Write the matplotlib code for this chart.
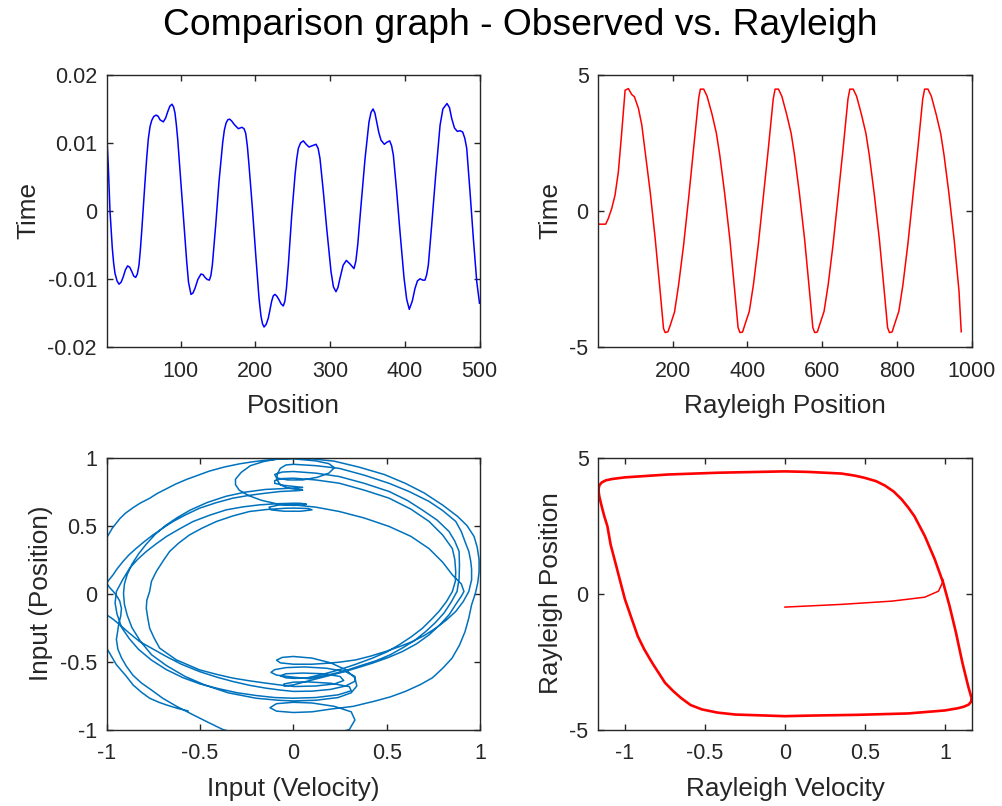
import matplotlib
matplotlib.use("Agg")
import matplotlib.pyplot as plt
import numpy as np

plt.rcParams['font.family'] = ['Liberation Sans', 'DejaVu Sans']
plt.rcParams['axes.unicode_minus'] = False

# ---------------- Top-left: observed signal (sample index, value) ----------------
obs_pts = [(1, 0.0114), (2, 0.0092), (3.1, 0.0067), (5.4, 0.0), (8.5, -0.0055), (10.3, -0.0077),
           (12.1, -0.0092), (14.8, -0.0103), (17.5, -0.0108), (20.3, -0.0105), (23.2, -0.0097),
           (26, -0.0087), (29, -0.0081), (31.8, -0.0083), (34.5, -0.0089), (37.2, -0.0096),
           (39.8, -0.0098), (42, -0.0093), (44.2, -0.0080), (46, -0.0058), (47.8, -0.0031),
           (50, 0.0006), (52.3, 0.0043), (54.5, 0.0077), (56.7, 0.0106), (59, 0.0124),
           (61.2, 0.0133), (64, 0.0139), (67.4, 0.0141), (70, 0.0139), (72.4, 0.0134),
           (76.8, 0.0131), (80, 0.0137), (82.7, 0.0146), (85.5, 0.0154), (88.4, 0.0157),
           (90.5, 0.0153), (92.4, 0.0144), (94.2, 0.0127), (96, 0.0106), (99.5, 0.0053),
           (103.5, -0.0006), (108.1, -0.0075), (110.5, -0.0105), (113.8, -0.0123), (116.5, -0.0121),
           (119.2, -0.0114), (123, -0.0101), (127.2, -0.0093), (130, -0.0094), (132.6, -0.0098),
           (135.5, -0.0101), (138.4, -0.0102), (140.5, -0.0095), (142.4, -0.0080), (146.9, -0.0021),
           (151.3, 0.0043), (156.3, 0.0101), (158.5, 0.0119), (160.7, 0.0129), (163, 0.0134),
           (165.6, 0.0135), (168.5, 0.0132), (171.8, 0.0127), (177.2, 0.0121), (182, 0.0123),
           (184.8, 0.0121), (187.1, 0.0114), (189.3, 0.0095), (191.5, 0.0067), (196, 0.0004),
           (200.5, -0.0065), (204.9, -0.0129), (207.5, -0.0155), (209.5, -0.0166), (211.6, -0.0171),
           (214.5, -0.0167), (217.3, -0.0158), (221.8, -0.0133), (224, -0.0125), (226.3, -0.0123),
           (229, -0.0126), (231.7, -0.0131), (234.5, -0.0137), (237.4, -0.0140), (239.5, -0.0133),
           (241.5, -0.0115), (244.1, -0.0080), (248.7, -0.0006), (253.1, 0.0053), (255.3, 0.0076),
           (257.5, 0.0092), (260.5, 0.0100), (264.2, 0.0103), (268, 0.0098), (271.8, 0.0094),
           (276.5, 0.0096), (281.2, 0.0098), (284, 0.0092), (286.5, 0.0077), (291, 0.0028),
           (295.5, -0.0026), (301.3, -0.0090), (304.5, -0.0112), (307.9, -0.0119), (310.5, -0.0113),
           (313.3, -0.0099), (317.5, -0.0080), (321.8, -0.0073), (326.5, -0.0078), (332, -0.0085),
           (334.5, -0.0074), (337, -0.0050), (341.4, 0.0008), (346.8, 0.0077), (352.1, 0.0131),
           (354.8, 0.0145), (357.5, 0.0150), (360, 0.0144), (362.4, 0.0131), (365.3, 0.0115),
           (368.2, 0.0104), (372.6, 0.0098), (376, 0.0101), (379.8, 0.0103), (382.3, 0.0096),
           (384.7, 0.0082), (389.2, 0.0028), (393.6, -0.0031), (399, -0.0099), (402.5, -0.0130),
           (406, -0.0145), (410, -0.0133), (413.7, -0.0114), (417, -0.0103), (420.5, -0.0100),
           (424, -0.0102), (427, -0.0102), (429.3, -0.0094), (431.5, -0.0080), (436, -0.0021),
           (441.4, 0.0053), (447.2, 0.0126), (451, 0.0150), (456.5, 0.0158), (459.8, 0.0152),
           (462.8, 0.0136), (466.5, 0.0122), (470.3, 0.0117), (474, 0.0118), (477.5, 0.0116),
           (480.3, 0.0107), (482.9, 0.0092), (487.3, 0.0028), (491.8, -0.0041), (496.3, -0.0104),
           (500, -0.0136)]

# ---------------- Top-right: Rayleigh position ----------------
ray_x = [1, 20.8, 27.8, 37, 45.8, 54.7, 63.8, 72.7, 81.5, 90.6, 97.6, 108.4, 117.5, 126.4, 139.8,
         153.2, 166.6, 175.5, 180, 187.3, 193.5, 205, 215.8, 229.2, 242.6, 256, 269.5, 274, 283,
         292, 305.4, 317, 326, 339, 353, 366, 375, 380, 387, 393, 405, 416, 429, 442, 456, 469,
         474, 483, 492, 505, 517, 526, 539, 553, 566, 575, 580, 587, 593, 605, 616, 629, 642, 656,
         669, 674, 683, 692, 705, 717, 726, 739, 753, 766, 775, 780, 787, 793, 805, 816, 829, 842,
         856, 869, 874, 883, 892, 905, 917, 926, 939, 953, 966, 972]
ray_y = [-0.49, -0.49, -0.28, 0.09, 0.58, 1.44, 2.91, 4.44, 4.50, 4.28, 4.20, 3.77, 3.15, 2.17,
         0.70, -1.02, -2.98, -4.33, -4.48, -4.45, -4.21, -3.72, -2.73, -1.26, 0.46, 2.30, 4.14,
         4.48, 4.48, 4.22, 3.55, 2.85, 2.05, 0.65, -1.05, -2.95, -4.30, -4.48, -4.46, -4.20, -3.70,
         -2.72, -1.25, 0.45, 2.30, 4.12, 4.48, 4.48, 4.22, 3.55, 2.85, 2.05, 0.65, -1.05, -2.95,
         -4.30, -4.48, -4.46, -4.20, -3.70, -2.72, -1.25, 0.45, 2.30, 4.12, 4.48, 4.48, 4.22, 3.55,
         2.85, 2.05, 0.65, -1.05, -2.95, -4.30, -4.48, -4.46, -4.20, -3.70, -2.72, -1.25, 0.45,
         2.30, 4.12, 4.48, 4.48, 4.22, 3.55, 2.85, 2.05, 0.65, -1.05, -2.95, -4.45]

# ---------------- Bottom-left: input phase portrait (velocity, position) ----------------
bl_start = [(-1.08, -0.05), (-1.0, -0.157), (-0.965, -0.19), (-0.93, -0.23), (-0.88, -0.29),
            (-0.824, -0.353), (-0.75, -0.41), (-0.681, -0.463), (-0.60, -0.52), (-0.503, -0.574),
            (-0.41, -0.615), (-0.324, -0.647), (-0.235, -0.675), (-0.147, -0.696), (-0.07, -0.71),
            (0.0, -0.72)]
bl_loop1 = [(0.1, -0.718), (0.2, -0.705), (0.28, -0.68), (0.33, -0.645), (0.33, -0.61),
            (0.28, -0.575), (0.18, -0.55), (0.06, -0.54), (-0.04, -0.545), (-0.1, -0.56),
            (-0.12, -0.58), (-0.09, -0.60), (0.0, -0.615), (0.086, -0.627)]
bl_rise_b = [(0.18, -0.60), (0.264, -0.574), (0.35, -0.535), (0.442, -0.495), (0.52, -0.45),
             (0.585, -0.40), (0.65, -0.345), (0.709, -0.28), (0.76, -0.215), (0.807, -0.144),
             (0.845, -0.065), (0.877, 0.015), (0.888, 0.11), (0.89, 0.21), (0.888, 0.309),
             (0.865, 0.385), (0.834, 0.456), (0.77, 0.54), (0.69, 0.615), (0.61, 0.685),
             (0.513, 0.75), (0.38, 0.81), (0.246, 0.86), (0.12, 0.885), (0.0, 0.897)]
bl_top_b = [(-0.06, 0.893), (-0.10, 0.875), (-0.09, 0.85), (-0.03, 0.835), (0.05, 0.835),
            (0.13, 0.855), (0.19, 0.885), (0.22, 0.925), (0.19, 0.955), (0.12, 0.975),
            (0.04, 0.985), (0.0, 0.99)]
bl_fall_a = [(-0.08, 0.988), (-0.15, 0.98), (-0.22, 0.968), (-0.29, 0.953), (-0.37, 0.93),
             (-0.45, 0.90), (-0.51, 0.87), (-0.57, 0.84), (-0.63, 0.805), (-0.68, 0.77),
             (-0.73, 0.735), (-0.77, 0.70), (-0.82, 0.665), (-0.86, 0.63), (-0.90, 0.59),
             (-0.93, 0.55), (-0.97, 0.48), (-1.0, 0.41), (-1.04, 0.30), (-1.05, 0.2),
             (-1.03, 0.12), (-1.0, 0.076), (-0.985, 0.045), (-0.966, 0.017), (-0.945, -0.02),
             (-0.93, -0.056), (-0.921, -0.11), (-0.925, -0.167), (-0.935, -0.22), (-0.94, -0.265),
             (-0.948, -0.338), (-0.94, -0.41), (-0.92, -0.475), (-0.895, -0.534), (-0.86, -0.60),
             (-0.815, -0.657), (-0.76, -0.71), (-0.70, -0.77), (-0.625, -0.83), (-0.54, -0.89),
             (-0.46, -0.945), (-0.378, -1.0), (-0.25, -1.05), (-0.1, -1.08), (0.05, -1.075),
             (0.2, -1.04), (0.30, -1.0)]
bl_loop2 = [(0.33, -0.93), (0.31, -0.87), (0.22, -0.83), (0.1, -0.805), (0.0, -0.80),
            (-0.09, -0.81), (-0.125, -0.84), (-0.09, -0.865), (0.0, -0.875), (0.1, -0.87),
            (0.2, -0.85)]
bl_rise_outer = [(0.32, -0.83), (0.44, -0.79), (0.52, -0.76), (0.60, -0.72), (0.68, -0.67),
                 (0.745, -0.62), (0.80, -0.55), (0.85, -0.476), (0.89, -0.38), (0.92, -0.28),
                 (0.94, -0.18), (0.955, -0.083), (0.975, 0.0), (0.988, 0.079), (0.995, 0.16),
                 (0.995, 0.25), (0.985, 0.34), (0.968, 0.42), (0.93, 0.50), (0.879, 0.568),
                 (0.80, 0.65), (0.70, 0.74), (0.60, 0.81), (0.487, 0.875), (0.35, 0.93),
                 (0.219, 0.973), (0.10, 0.99), (0.0, 0.995)]
bl_top_big = [(-0.08, 0.99), (-0.16, 0.97), (-0.23, 0.94), (-0.28, 0.89), (-0.31, 0.84),
              (-0.31, 0.80), (-0.29, 0.76), (-0.24, 0.72), (-0.17, 0.685), (-0.09, 0.66),
              (0.0, 0.648), (0.05, 0.65), (0.07, 0.657), (0.04, 0.663), (0.006, 0.664)]
bl_fall_c = [(-0.09, 0.66), (-0.18, 0.652), (-0.27, 0.637), (-0.36, 0.615), (-0.45, 0.575),
             (-0.538, 0.529), (-0.61, 0.475), (-0.68, 0.419), (-0.735, 0.365), (-0.788, 0.309),
             (-0.835, 0.25), (-0.877, 0.186), (-0.915, 0.10), (-0.948, 0.015), (-0.955, -0.07),
             (-0.945, -0.15), (-0.92, -0.25), (-0.88, -0.33), (-0.83, -0.41), (-0.76, -0.49),
             (-0.68, -0.56), (-0.59, -0.62), (-0.50, -0.665), (-0.40, -0.70), (-0.30, -0.73),
             (-0.20, -0.75), (-0.10, -0.765), (0.0, -0.77)]
bl_loop3 = [(0.12, -0.765), (0.24, -0.745), (0.31, -0.715), (0.30, -0.685), (0.2, -0.66),
            (0.08, -0.65), (0.0, -0.652), (-0.05, -0.665), (-0.05, -0.68), (0.0, -0.672),
            (0.068, -0.647)]
bl_rise_d = [(0.16, -0.615), (0.246, -0.585), (0.335, -0.55), (0.424, -0.512), (0.51, -0.47),
             (0.585, -0.426), (0.66, -0.37), (0.727, -0.304), (0.785, -0.23), (0.834, -0.157),
             (0.875, -0.07), (0.90, -0.02), (0.914, 0.015), (0.90, 0.07), (0.852, 0.137),
             (0.80, 0.23), (0.727, 0.33), (0.63, 0.42), (0.513, 0.493), (0.38, 0.555),
             (0.246, 0.603), (0.12, 0.635), (0.0, 0.652)]
bl_top_d = [(-0.08, 0.65), (-0.13, 0.635), (-0.12, 0.615), (-0.05, 0.605), (0.04, 0.605),
            (0.10, 0.615), (0.08, 0.625), (0.0, 0.628)]
bl_fall_d = [(-0.039, 0.627), (-0.14, 0.618), (-0.235, 0.603), (-0.325, 0.57), (-0.413, 0.529),
             (-0.49, 0.48), (-0.556, 0.431), (-0.615, 0.37), (-0.663, 0.309), (-0.70, 0.235),
             (-0.734, 0.162), (-0.76, 0.09), (-0.77, 0.015), (-0.785, -0.05), (-0.788, -0.108),
             (-0.78, -0.18), (-0.77, -0.255), (-0.745, -0.33), (-0.716, -0.402), (-0.627, -0.488),
             (-0.503, -0.561), (-0.41, -0.595), (-0.324, -0.622), (-0.235, -0.642),
             (-0.147, -0.659), (-0.07, -0.673), (0.006, -0.684)]
bl_loop4 = [(0.12, -0.68), (0.22, -0.665), (0.27, -0.64), (0.25, -0.61), (0.16, -0.59),
            (0.05, -0.585), (-0.04, -0.59), (-0.07, -0.605), (-0.04, -0.62), (0.0, -0.624),
            (0.068, -0.622)]
bl_rise_c = [(0.16, -0.593), (0.246, -0.561), (0.335, -0.52), (0.424, -0.475), (0.50, -0.43),
             (0.567, -0.377), (0.63, -0.32), (0.692, -0.255), (0.74, -0.19), (0.78, -0.132),
             (0.82, -0.06), (0.852, 0.015), (0.868, 0.09), (0.87, 0.16), (0.865, 0.25),
             (0.852, 0.33), (0.80, 0.43), (0.727, 0.53), (0.63, 0.62), (0.513, 0.701),
             (0.38, 0.76), (0.246, 0.811), (0.12, 0.835), (0.0, 0.848)]
bl_top_c = [(-0.06, 0.845), (-0.10, 0.83), (-0.10, 0.81), (-0.05, 0.795), (0.02, 0.785),
            (0.05, 0.78), (0.03, 0.775), (0.0, 0.775)]
bl_fall_e = [(-0.15, 0.765), (-0.26, 0.745), (-0.36, 0.715), (-0.46, 0.67), (-0.55, 0.615),
             (-0.62, 0.56), (-0.685, 0.50), (-0.74, 0.435), (-0.79, 0.36), (-0.83, 0.29),
             (-0.865, 0.215), (-0.89, 0.14), (-0.905, 0.07), (-0.91, 0.0), (-0.905, -0.08),
             (-0.89, -0.16), (-0.865, -0.25), (-0.82, -0.35), (-0.76, -0.45), (-0.68, -0.53),
             (-0.58, -0.61), (-0.47, -0.675), (-0.35, -0.73), (-0.20, -0.77), (-0.08, -0.785),
             (0.0, -0.79)]
bl_loop5 = [(0.12, -0.785), (0.24, -0.765), (0.31, -0.73), (0.34, -0.68), (0.33, -0.62),
            (0.28, -0.56), (0.2, -0.51), (0.10, -0.475), (0.0, -0.463), (-0.06, -0.47),
            (-0.09, -0.49), (-0.07, -0.51), (0.0, -0.52), (0.1, -0.52), (0.18, -0.513),
            (0.246, -0.505)]
bl_rise_a = [(0.335, -0.488), (0.415, -0.46), (0.495, -0.426), (0.57, -0.39), (0.638, -0.353),
             (0.70, -0.31), (0.763, -0.255), (0.82, -0.195), (0.87, -0.132), (0.91, -0.06),
             (0.94, 0.015), (0.955, 0.10), (0.955, 0.18), (0.95, 0.24), (0.94, 0.31),
             (0.92, 0.38), (0.90, 0.455), (0.87, 0.53), (0.80, 0.61), (0.727, 0.677),
             (0.62, 0.75), (0.513, 0.81), (0.38, 0.87), (0.246, 0.92), (0.12, 0.94), (0.0, 0.95)]
bl_top_a = [(-0.04, 0.945), (-0.07, 0.92), (-0.085, 0.88), (-0.09, 0.84), (-0.07, 0.80),
            (-0.03, 0.775), (0.02, 0.765), (0.05, 0.76), (0.03, 0.757), (0.006, 0.755)]
bl_fall_end = [(-0.07, 0.75), (-0.147, 0.738), (-0.235, 0.722), (-0.324, 0.701), (-0.415, 0.667),
               (-0.503, 0.627), (-0.575, 0.58), (-0.645, 0.529), (-0.70, 0.48), (-0.752, 0.431),
               (-0.80, 0.38), (-0.841, 0.333), (-0.88, 0.285), (-0.913, 0.235), (-0.945, 0.18),
               (-0.966, 0.137), (-0.985, 0.105), (-1.0, 0.076), (-1.04, 0.0), (-1.07, -0.15),
               (-1.05, -0.3), (-1.0, -0.402), (-0.975, -0.46), (-0.948, -0.524), (-0.90, -0.60),
               (-0.859, -0.672), (-0.815, -0.725), (-0.77, -0.77), (-0.72, -0.80),
               (-0.681, -0.819), (-0.62, -0.845), (-0.565, -0.863)]
bl_segments = [bl_start, bl_loop1, bl_rise_b, bl_top_b, bl_fall_a, bl_loop2, bl_rise_outer,
               bl_top_big, bl_fall_c, bl_loop3, bl_rise_d, bl_top_d, bl_fall_d, bl_loop4,
               bl_rise_c, bl_top_c, bl_fall_e, bl_loop5, bl_rise_a, bl_top_a, bl_fall_end]

# ---------------- Bottom-right: Rayleigh phase portrait ----------------
rc_vel = [-1.167, -1.16, -1.146, -1.12, -1.08, -1.0, -0.73, -0.42, 0.0, 0.146, 0.354, 0.44, 0.5,
          0.57, 0.625, 0.68, 0.73, 0.77, 0.81, 0.875, 0.9375, 0.99, 1.03, 1.07, 1.11, 1.146, 1.16,
          1.167, 1.165, 1.15, 1.12, 1.08, 1.0, 0.77, 0.46, 0.146, 0.0, -0.31, -0.42, -0.52, -0.59,
          -0.65, -0.70, -0.75, -0.83, -0.88, -0.92, -0.96, -1.0, -1.03, -1.06, -1.09, -1.11, -1.13,
          -1.146, -1.16, -1.167]
rc_pos = [3.82, 3.98, 4.08, 4.16, 4.21, 4.27, 4.375, 4.44, 4.49, 4.47, 4.41, 4.33, 4.25, 4.13,
          3.97, 3.75, 3.46, 3.17, 2.84, 2.11, 1.25, 0.39, -0.47, -1.45, -2.55, -3.41, -3.70, -3.84,
          -3.97, -4.08, -4.16, -4.22, -4.30, -4.41, -4.46, -4.49, -4.51, -4.45, -4.38, -4.26,
          -4.10, -3.84, -3.58, -3.28, -2.55, -2.05, -1.57, -0.90, -0.22, 0.45, 1.13, 1.80, 2.47,
          2.85, 3.21, 3.55, 3.82]
tr_vel = [0.0, 0.354, 0.67, 0.875, 0.96, 0.98, 0.99]
tr_pos = [-0.50, -0.40, -0.28, -0.135, 0.085, 0.33, 0.50]

# ---------------- Figure ----------------
fig = plt.figure(figsize=(10.02, 8.06), dpi=100)
W, H = 1002, 806

def ax_at(l, t, r, b):
    return fig.add_axes([l / W, 1 - b / H, (r - l) / W, (b - t) / H])

ax1 = ax_at(106.7, 75, 479.5, 346.7)
ax2 = ax_at(598.3, 75, 971.7, 346.7)
ax3 = ax_at(106.7, 457.5, 480, 729.5)
ax4 = ax_at(598.3, 457.5, 971.7, 729.5)

TICK_FS = 15.5
LAB_FS = 18.8
dark = '#262626'

for ax in (ax1, ax2, ax3, ax4):
    ax.tick_params(direction='in', top=True, right=True, length=4, width=1.0,
                   labelsize=TICK_FS, colors=dark)
    ax.tick_params(axis='x', pad=10)
    ax.tick_params(axis='y', pad=7)
    for s in ax.spines.values():
        s.set_color(dark)
        s.set_linewidth(1.0)

def labels(ax, xl, yl):
    ax.set_xlabel(xl, fontsize=LAB_FS, color=dark, labelpad=9)
    ax.set_ylabel(yl, fontsize=LAB_FS, color=dark, labelpad=5)

obs = np.array(obs_pts)
ax1.plot(obs[:, 0], obs[:, 1], color=(0, 0, 1), lw=1.1)
ax1.set_xlim(1, 500)
ax1.set_ylim(-0.02, 0.02)
ax1.set_xticks([100, 200, 300, 400, 500])
ax1.set_yticks([-0.02, -0.01, 0, 0.01, 0.02])
ax1.set_yticklabels(['-0.02', '-0.01', '0', '0.01', '0.02'])
labels(ax1, 'Position', 'Time')

ax2.plot(ray_x, ray_y, color=(1, 0, 0), lw=1.1)
ax2.set_xlim(1, 1000)
ax2.set_ylim(-5, 5)
ax2.set_xticks([200, 400, 600, 800, 1000])
ax2.set_yticks([-5, 0, 5])
labels(ax2, 'Rayleigh Position', 'Time')

bl_pts = np.array([p for seg in bl_segments for p in seg])
ax3.plot(bl_pts[:, 0], bl_pts[:, 1], color=(0, 0.447, 0.741), lw=1.1)
ax3.set_xlim(-1, 1)
ax3.set_ylim(-1, 1)
ax3.set_xticks([-1, -0.5, 0, 0.5, 1])
ax3.set_yticks([-1, -0.5, 0, 0.5, 1])
ax3.set_xticklabels(['-1', '-0.5', '0', '0.5', '1'])
ax3.set_yticklabels(['-1', '-0.5', '0', '0.5', '1'])
labels(ax3, 'Input (Velocity)', 'Input (Position)')

ax4.plot(tr_vel, tr_pos, color=(1, 0, 0), lw=1.1)
ax4.plot(rc_vel, rc_pos, color=(1, 0, 0), lw=1.9)
ax4.set_xlim(-1.167, 1.168)
ax4.set_ylim(-5, 5)
ax4.set_xticks([-1, -0.5, 0, 0.5, 1])
ax4.set_xticklabels(['-1', '-0.5', '0', '0.5', '1'])
ax4.set_yticks([-5, 0, 5])
labels(ax4, 'Rayleigh Velocity', 'Rayleigh Position')

fig.text(0.519, 0.990, 'Comparison graph - Observed vs. Rayleigh', ha='center', va='top',
         fontsize=26.8, color='black')

fig.savefig('out.png', dpi=100)
